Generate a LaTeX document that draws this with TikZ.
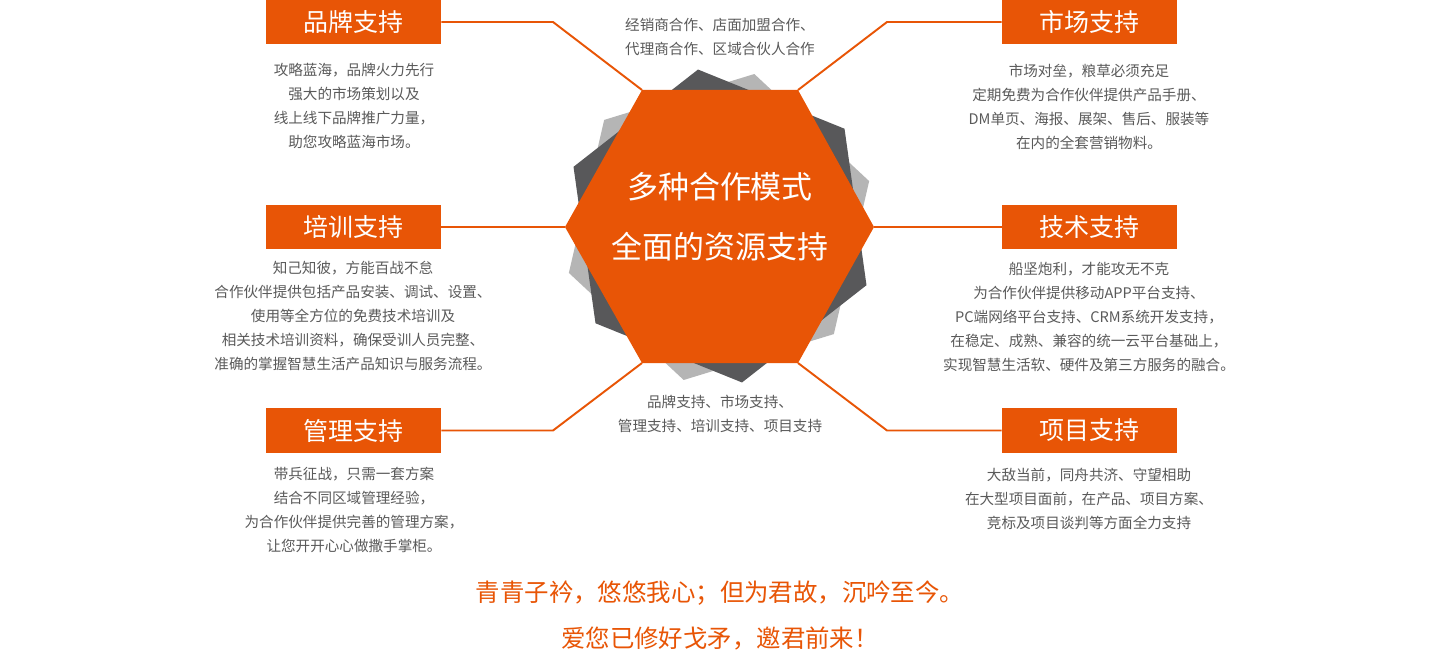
\documentclass[tikz,border=0pt]{standalone}
\usepackage{fontspec}
\setmainfont{Noto Sans CJK SC}
\usepackage{tikz}
\usetikzlibrary{positioning,calc}
\definecolor{brandorange}{HTML}{E85506}
\definecolor{hexdark}{HTML}{58585A}
\definecolor{hexlight}{HTML}{B5B5B5}
\definecolor{textgray}{HTML}{5A5A5A}
\tikzset{
  titlebox/.style={fill=brandorange,text=white,inner sep=0pt,
                   minimum width=3.5cm,minimum height=0.9cm,
                   font=\fontsize{14.2}{17}\selectfont},
  desctext/.style={text=textgray,align=center,inner sep=0pt,
                   font=\fontsize{8.3}{13.66}\selectfont},
  hubtext/.style={text=white,align=center,inner sep=0pt,
                  font=\fontsize{17.6}{34}\selectfont},
  mottotext/.style={text=brandorange,align=center,inner sep=0pt,
                    font=\fontsize{13.9}{26.2}\selectfont},
  linkline/.style={draw=brandorange,line width=1.1pt}
}

\begin{document}
\begin{tikzpicture}[x=0.02cm,y=0.02cm]
  \fill[white] (0,0) rectangle (1439,650);
  \useasboundingbox (0,0) rectangle (1439,650);
  \fill[hexlight,shift={(719,423)}] (17:157) \foreach \a in {77,137,...,317} { -- (\a:157) } -- cycle;
  \fill[hexdark,shift={(720,424)}] (38:158) \foreach \a in {98,158,...,338} { -- (\a:158) } -- cycle;
  \coordinate (hexw) at (565,423);
  \coordinate (hexnw) at (642,560);
  \coordinate (hexne) at (798,560);
  \coordinate (hexe) at (874,423);
  \coordinate (hexse) at (798,287);
  \coordinate (hexsw) at (642,287);
  \fill[brandorange] (hexw) -- (hexnw) -- (hexne) -- (hexe) -- (hexse) -- (hexsw) -- cycle;
  \node[hubtext] (hub) at (720,433) {多种合作模式\\全面的资源支持};

  \node[titlebox] (brand) at (353.5,628) {品牌支持};
  \node[titlebox] (market) at (1089.5,628) {市场支持};
  \node[titlebox] (train) at (353.5,423) {培训支持};
  \node[titlebox] (tech) at (1089.5,423) {技术支持};
  \node[titlebox] (manage) at (353.5,219.5) {管理支持};
  \node[titlebox] (project) at (1089.5,219.5) {项目支持};

  \coordinate (brandbend) at (553,628);
  \coordinate (marketbend) at (887,628);
  \coordinate (managebend) at (553,219.5);
  \coordinate (projectbend) at (887,219.5);
  \draw[linkline] (brand.east) -- (brandbend) -- (hexnw);
  \draw[linkline] (market.west) -- (marketbend) -- (hexne);
  \draw[linkline] (train.east) -- (hexw);
  \draw[linkline] (hexe) -- (tech.west);
  \draw[linkline] (manage.east) -- (managebend) -- (hexsw);
  \draw[linkline] (project.west) -- (projectbend) -- (hexse);

  \node[desctext] (branddesc) at (354,544) {攻略蓝海，品牌火力先行\\强大的市场策划以及\\线上线下品牌推广力量，\\助您攻略蓝海市场。};
  \node[desctext] (marketdesc) at (1089,543.5) {市场对垒，粮草必须充足\\定期免费为合作伙伴提供产品手册、\\DM单页、海报、展架、售后、服装等\\在内的全套营销物料。};
  \node[desctext] (traindesc) at (353,334) {知己知彼，方能百战不怠\\合作伙伴提供包括产品安装、调试、设置、\\使用等全方位的免费技术培训及\\相关技术培训资料，确保受训人员完整、\\准确的掌握智慧生活产品知识与服务流程。};
  \node[desctext] (techdesc) at (1089,333) {船坚炮利，才能攻无不克\\为合作伙伴提供移动APP平台支持、\\PC端网络平台支持、CRM系统开发支持，\\在稳定、成熟、兼容的统一云平台基础上，\\实现智慧生活软、硬件及第三方服务的融合。};
  \node[desctext] (managedesc) at (354,140) {带兵征战，只需一套方案\\结合不同区域管理经验，\\为合作伙伴提供完善的管理方案，\\让您开开心心做撒手掌柜。};
  \node[desctext] (projectdesc) at (1089,151.5) {大敌当前，同舟共济、守望相助\\在大型项目面前，在产品、项目方案、\\竞标及项目谈判等方面全力支持};

  \node[desctext] (modenote) at (720,613) {经销商合作、店面加盟合作、\\代理商合作、区域合伙人合作};
  \node[desctext] (supportnote) at (720,236.5) {品牌支持、市场支持、\\管理支持、培训支持、项目支持};
  \node[mottotext] (motto) at (720,35) {青青子衿，悠悠我心；但为君故，沉吟至今。\\爱您已修好戈矛，邀君前来！};
\end{tikzpicture}
\end{document}
